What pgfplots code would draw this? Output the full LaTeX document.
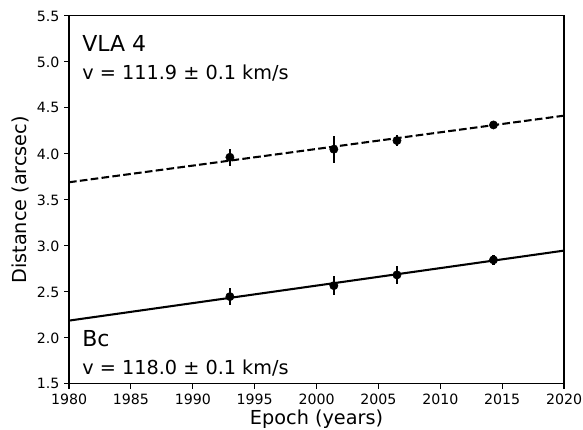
\documentclass[border=0pt]{standalone}
\usepackage{fontspec}
\setmainfont{DejaVu Sans}
\usepackage{pgfplots}
\pgfplotsset{compat=1.18}

% proper-motion fits
\pgfplotstableread{
x y e
1993.0 3.964 0.092
2001.4 4.051 0.145
2006.5 4.145 0.063
2014.3 4.315 0.02
}\vlafour
\pgfplotstableread{
x y e
1993.0 2.449 0.090
2001.4 2.568 0.103
2006.5 2.685 0.095
2014.3 2.848 0.055
}\bc

\begin{document}
\begin{tikzpicture}
\begin{axis}[
    scale only axis,
    width=360pt, height=267.6pt,
    xmin=1980, xmax=2020,
    ymin=1.5, ymax=5.5,
    xtick={1980,1985,...,2020},
    ytick={1.5,2.0,...,5.5},
    yticklabel style={/pgf/number format/.cd, fixed, fixed zerofill, precision=1},
    xticklabel style={/pgf/number format/.cd, 1000 sep={}},
    /pgf/number format/assume math mode=true,
    tick label style={font=\fontsize{10.3}{12}\selectfont},
    label style={font=\fontsize{14}{16}\selectfont},
    xlabel={Epoch (years)},
    ylabel={Distance (arcsec)},
    tick align=outside,
    tick pos=left,
    major tick length=3.5pt,
    every tick/.style={black, line width=0.8pt},
    axis line style={line width=0.8pt},
    ylabel style={yshift=-1pt},
    xlabel style={yshift=3pt},
]
\addplot[black, line width=1.5pt, dash pattern=on 5.55pt off 2.4pt] coordinates {(1980,3.692) (2020,4.416)};
\addplot[black, line width=1.5pt] coordinates {(1980,2.188) (2020,2.949)};
\addplot[only marks, mark=*, mark size=3pt, black,
    error bars/.cd, y dir=both, y explicit, error mark=none,
    error bar style={line width=1.5pt}]
    table[x=x, y=y, y error=e] {\vlafour};
\addplot[only marks, mark=*, mark size=3pt, black,
    error bars/.cd, y dir=both, y explicit, error mark=none,
    error bar style={line width=1.5pt}]
    table[x=x, y=y, y error=e] {\bc};
\node[anchor=base west, inner sep=0pt, font=\fontsize{16}{18}\selectfont] at (axis cs:1981.05,5.109) {VLA 4};
\node[anchor=base west, inner sep=0pt, font=\fontsize{14}{16}\selectfont] at (axis cs:1981.05,4.804) {v = 111.9 ± 0.1 km/s};
\node[anchor=base west, inner sep=0pt, font=\fontsize{16}{18}\selectfont] at (axis cs:1981.05,1.905) {Bc};
\node[anchor=base west, inner sep=0pt, font=\fontsize{14}{16}\selectfont] at (axis cs:1981.05,1.598) {v = 118.0 ± 0.1 km/s};
\end{axis}
\pgfresetboundingbox
\path[use as bounding box] ([xshift=-50.2pt,yshift=-33.5pt]current axis.south west) rectangle ([xshift=13.8pt,yshift=11.6pt]current axis.north east);
\end{tikzpicture}
\end{document}
